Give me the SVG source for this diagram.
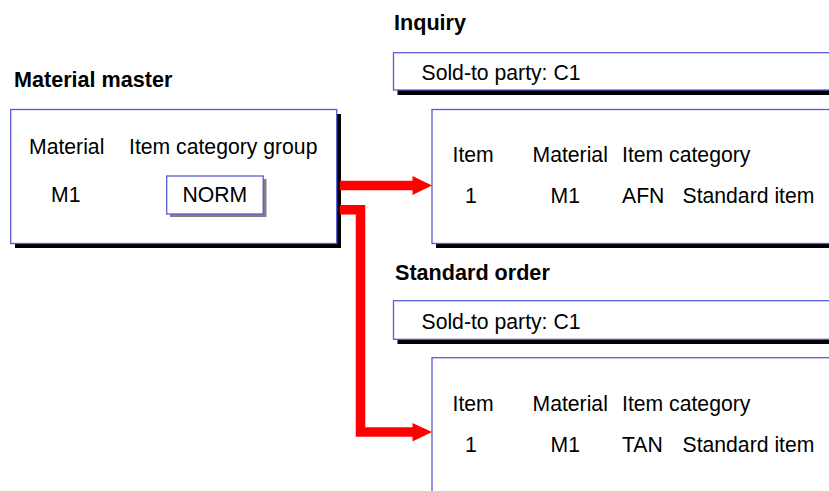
<svg xmlns="http://www.w3.org/2000/svg" width="829" height="491" viewBox="0 0 829 491">
<style>
text{font-family:"Liberation Sans",Arial,sans-serif;font-size:21.2px;fill:#000}
.t{font-weight:bold;font-size:21.6px}
.box{fill:#fff;stroke:#5a5ad8;stroke-width:1.3}
.sh{fill:#000}
.conn{fill:none;stroke:#ff0000;stroke-width:9.5;stroke-linejoin:miter}
.head{fill:#ff0000}
</style>
<rect width="829" height="491" fill="#fff"/>
<text class="t" x="14" y="87">Material master</text>
<text class="t" x="394" y="30">Inquiry</text>
<text class="t" x="395" y="280">Standard order</text>
<g id="material-master">
<rect class="sh" x="15" y="114" width="326" height="134"/>
<rect class="box" x="10.7" y="109.5" width="326" height="134"/>
<text x="29" y="154">Material</text>
<text x="129" y="154">Item category group</text>
<text x="51" y="202">M1</text>
<rect x="170" y="179" width="96.5" height="38" fill="#808080"/>
<rect class="box" x="166.7" y="176" width="96.5" height="38"/>
<text x="182.5" y="202">NORM</text>
</g>
<g id="inquiry-header">
<rect class="sh" x="397.5" y="57" width="440" height="38"/>
<rect class="box" x="393.5" y="52.7" width="440" height="37.3"/>
<text x="421.5" y="79.5">Sold-to party: C1</text>
</g>
<g id="inquiry-items">
<rect class="sh" x="436" y="114" width="400" height="134"/>
<rect class="box" x="432" y="109.5" width="400" height="134"/>
<text x="452.5" y="162">Item</text>
<text x="532.5" y="162">Material</text>
<text x="622" y="162">Item category</text>
<text x="465" y="203">1</text>
<text x="550.5" y="203">M1</text>
<text x="622" y="203">AFN</text>
<text x="682.5" y="203">Standard item</text>
</g>
<g id="order-header">
<rect class="sh" x="397.5" y="305" width="440" height="39"/>
<rect class="box" x="393.5" y="300.7" width="440" height="38.6"/>
<text x="421.5" y="328.5">Sold-to party: C1</text>
</g>
<g id="order-items">
<rect class="box" x="432" y="357.7" width="400" height="150"/>
<text x="452.5" y="411">Item</text>
<text x="532.5" y="411">Material</text>
<text x="622" y="411">Item category</text>
<text x="465" y="452">1</text>
<text x="550.5" y="452">M1</text>
<text x="622" y="452">TAN</text>
<text x="682.5" y="452">Standard item</text>
</g>
<g id="connectors">
<path class="conn" d="M340 185.4H413"/>
<polygon class="head" points="412.5,176 432,185.4 412.5,195"/>
<path class="conn" d="M340 209.8H360.5V432H413"/>
<polygon class="head" points="412.5,423 432,432 412.5,441.5"/>
</g>
</svg>
